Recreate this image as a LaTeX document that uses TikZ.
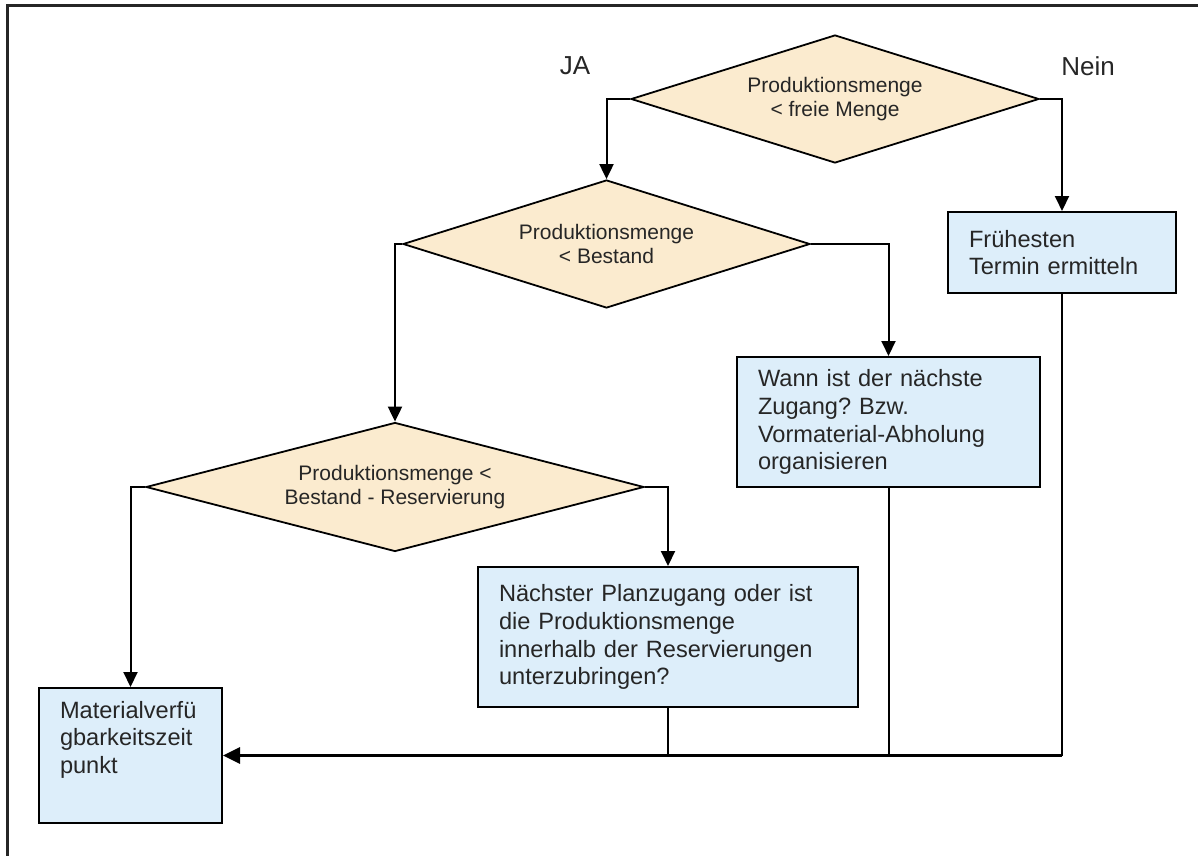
\documentclass[tikz,border=0pt]{standalone}
\usepackage{fontspec}
\setmainfont{Liberation Sans}
\usetikzlibrary{shapes.geometric,arrows.meta}
\frenchspacing

\definecolor{rautenbeige}{RGB}{251,235,207}
\definecolor{kastenblau}{RGB}{221,238,250}
\definecolor{schrift}{RGB}{38,38,38}

\tikzset{
    raute/.style={diamond, draw, fill=rautenbeige, line width=0.9pt, inner sep=0pt,
        aspect=3.2, align=center, text=schrift, font=\fontsize{10.5}{11.8}\selectfont},
    kasten/.style={rectangle, draw, fill=kastenblau, line width=1pt, inner xsep=10.5pt,
        inner ysep=0pt, align=left, text=schrift, font=\fontsize{11.8}{13.9}\selectfont},
    marke/.style={text=schrift, font=\fontsize{13}{15}\selectfont},
    linie/.style={line width=1pt},
    pfeil/.style={linie, -{Triangle[length=7.5pt,width=7pt]}},
    sammelpfeil/.style={line width=1.6pt, -{Triangle[length=8.5pt,width=8pt]}},
}

\begin{document}
\begin{tikzpicture}[x=0.5pt, y=-0.5pt]
    \useasboundingbox (0,0) rectangle (1198,856);

    % Rahmen (oben und links)
    \draw[line width=1.5pt, black!85] (1198,6) -- (7,6) -- (7,856);

    % Entscheidungen
    \node[raute, minimum width=204pt, minimum height=64pt] (d1) at (835,99)
        {Produktionsmenge\\< freie Menge};
    \node[raute, minimum width=203.5pt, minimum height=64pt] (d2) at (606.5,244)
        {Produktionsmenge\\< Bestand};
    \node[raute, minimum width=249pt, minimum height=64.5pt] (d3) at (395,487)
        {Produktionsmenge <\\Bestand - Reservierung};

    % Ergebnisse
    \node[kasten, text width=93pt, minimum height=40.5pt] (frueh) at (1062,252.5)
        {Frühesten\\Termin ermitteln};
    \node[kasten, text width=130.5pt, minimum height=65pt] (wann) at (888.5,422)
        {Wann ist der nächste\\Zugang? Bzw.\\Vormaterial-Abholung\\organisieren};
    \node[kasten, text width=169pt, minimum height=70pt] (naechst) at (668,637)
        {Nächster Planzugang oder ist\\die Produktionsmenge\\innerhalb der Reservierungen\\unterzubringen?};
    \node[kasten, text width=70.5pt, minimum height=67.5pt] (material) at (130.5,755.5)
        {Materialverfü\\gbarkeitszeit\\punkt\\\strut};

    % JA / Nein
    \node[marke] (ja) at (575,66) {JA};
    \node[marke] (nein) at (1088,66) {Nein};

    % Verzweigungen
    \draw[pfeil] (d1.west) -| (d2.north);
    \draw[pfeil] (d1.east) -| (frueh.north);
    \draw[pfeil] (d2.west) -| (d3.north);
    \draw[pfeil] (d2.east) -| (wann.north);
    \draw[pfeil] (d3.west) -| (material.north);
    \draw[pfeil] (d3.east) -| (naechst.north);

    % Zusammenführung unten
    \foreach \k in {naechst, wann, frueh} {
        \draw[linie] (\k.south) -- (\k.south |- material.east);
    }
    \draw[sammelpfeil] (frueh.south |- material.east) -- (material.east);
\end{tikzpicture}
\end{document}
